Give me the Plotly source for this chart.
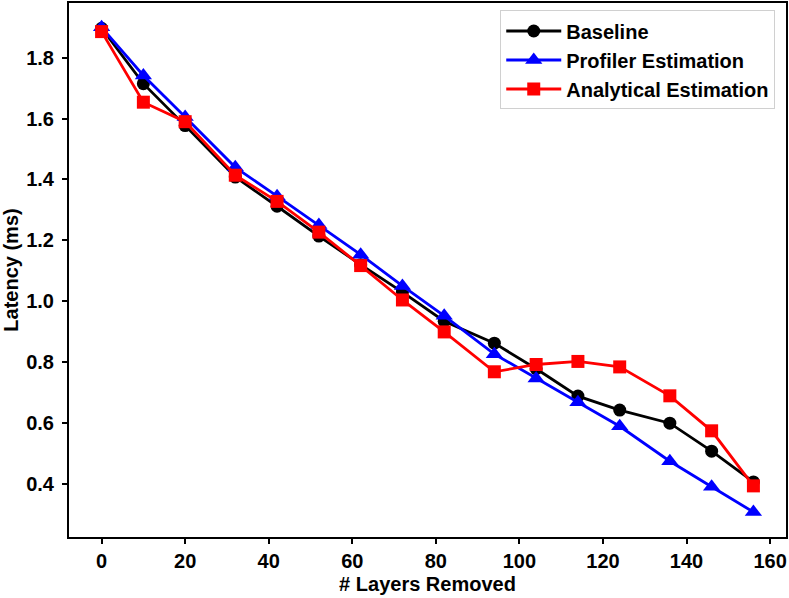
import plotly.graph_objects as go

# layers removed (x axis)
layers = [0, 10, 20, 32, 42, 52, 62, 72, 82, 94, 104, 114, 124, 136, 146, 156]

# latency in ms
baseline = [1.897, 1.715, 1.577, 1.408, 1.312, 1.214, 1.12, 1.03, 0.934,
            0.862, 0.778, 0.688, 0.642, 0.599, 0.507, 0.406]
profiler = [1.9, 1.742, 1.605, 1.44, 1.345, 1.25, 1.153, 1.05, 0.952,
            0.826, 0.746, 0.668, 0.589, 0.474, 0.39, 0.307]
analytical = [1.886, 1.654, 1.59, 1.414, 1.328, 1.227, 1.117, 1.004, 0.899,
              0.768, 0.792, 0.802, 0.784, 0.689, 0.574, 0.393]

series = [
    ("Baseline", baseline, "black", "circle", 13),
    ("Profiler Estimation", profiler, "blue", "triangle-up", 15),
    ("Analytical Estimation", analytical, "red", "square", 13),
]

fig = go.Figure()
for name, vals, col, sym, size in series:
    fig.add_trace(go.Scatter(
        x=layers, y=vals, name=name, mode="lines+markers",
        line=dict(color=col, width=2.8),
        marker=dict(color=col, symbol=sym, size=size, line=dict(width=0)),
    ))

font = dict(family="Liberation Sans, Arial, sans-serif", size=20, color="black", weight="bold")

axis_style = dict(
    showgrid=False, zeroline=False, automargin=False,
    showline=True, linecolor="black", linewidth=2, mirror=True,
    ticks="outside", ticklen=5, tickwidth=1.5, tickcolor="black",
    tickfont=font,
)

fig.update_xaxes(range=[-7.8, 163.8], tickvals=[0, 20, 40, 60, 80, 100, 120, 140, 160],
                 title=dict(text="# Layers Removed", font=font, standoff=6), **axis_style)
fig.update_yaxes(range=[0.225, 1.98], tickvals=[0.4, 0.6, 0.8, 1.0, 1.2, 1.4, 1.6, 1.8],
                 tickformat=".1f", ticklabelstandoff=4,
                 title=dict(text="Latency (ms)", font=font, standoff=8), **axis_style)

fig.update_layout(
    width=789, height=598,
    margin=dict(l=69, r=3, t=3, b=61),
    plot_bgcolor="white", paper_bgcolor="white",
    font=font,
    legend=dict(x=0.985, y=0.986, xanchor="right", yanchor="top",
                bgcolor="white", bordercolor="#d0d0d0", borderwidth=1,
                itemwidth=55, font=font),
)

# drop the default page margin so the figure fills the window exactly
fig.write_html("out.html", config={"displayModeBar": False},
               post_script="document.body.style.margin='0';document.body.style.overflow='hidden';")
